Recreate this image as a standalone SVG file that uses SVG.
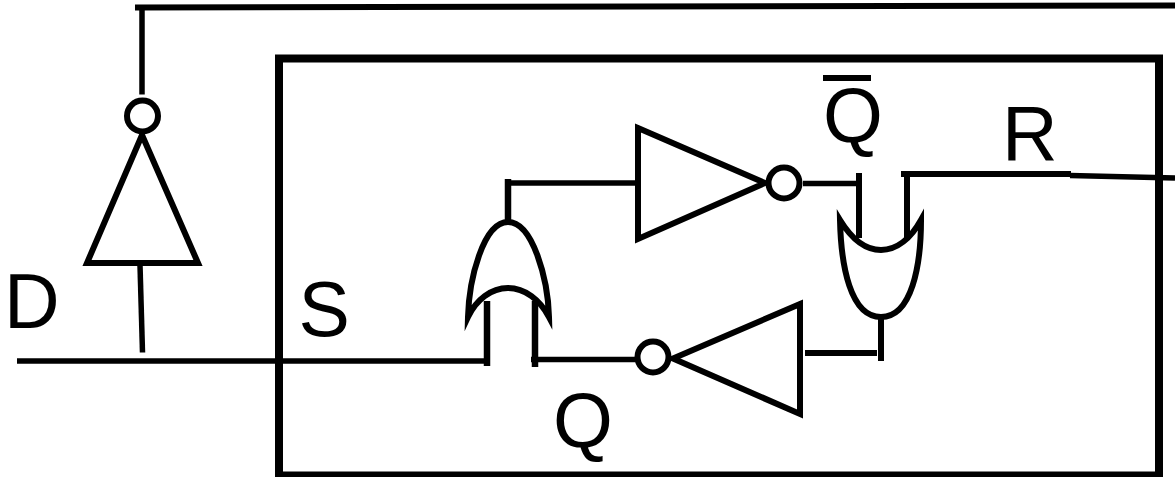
<svg xmlns="http://www.w3.org/2000/svg" width="1175" height="477" viewBox="0 0 1175 477">
<style>
.s{fill:none;stroke:#000;stroke-linecap:butt;stroke-linejoin:miter}
.g{fill:#fff;stroke:#000;stroke-width:6;stroke-miterlimit:10}
text{font-family:"Liberation Sans",Arial,sans-serif;font-size:77px;fill:#000}
</style>
<rect fill="#fff" width="1175" height="477"/>
<g id="frame"><rect class="s" x="279" y="58.500" width="880" height="417" stroke-width="8"/></g>
<g id="connectors">
<path class="s" stroke-width="6" d="M135 7.500L1175 5.500"/>
<path class="s" stroke-width="5.500" d="M142 8V94.500"/>
<path class="s" stroke-width="5.500" d="M140 265L142.500 352.500"/>
<path class="s" stroke-width="5.500" d="M17 361H487"/>
<path class="s" stroke-width="6.500" d="M487 301V366"/>
<path class="s" stroke-width="6.500" d="M535 301V367"/>
<path class="s" stroke-width="5.500" d="M531 359.500H638"/>
<path class="s" stroke-width="6.500" d="M508 179V222"/>
<path class="s" stroke-width="5.500" d="M508 183H637"/>
<path class="s" stroke-width="5.500" d="M803 183.500H858"/>
<path class="s" stroke-width="6" d="M859 173V238"/>
<path class="s" stroke-width="6" d="M907 174V238"/>
<path class="s" stroke-width="6" d="M901 174H1071"/>
<path class="s" stroke-width="5.500" d="M1070 175.500L1175 178"/>
<path class="s" stroke-width="6" d="M805 353H877"/>
<path class="s" stroke-width="6" d="M881 316V361"/>
<path class="s" stroke-width="6" d="M823 78H871"/>
</g>
<g id="inverter-d">
<path class="g" d="M142 135L198 263H87Z"/>
<circle class="g" cx="142.500" cy="116" r="15.500"/>
</g>
<g id="or-s">
<path class="g" d="M508 222C533 222 548 280 549 317C540 300 525 288 508 288C491 288 476 300 468 317C469 280 483 222 508 222Z"/>
</g>
<g id="inverter-top">
<path class="g" d="M638 128L765 183L638 239Z"/>
<circle class="g" cx="784" cy="183" r="15.500"/>
</g>
<g id="or-r">
<path class="g" d="M881 317C850 317 841 265 840 220C851 238 865 250 881 250C897 250 911 238 921 220C921 265 912 317 881 317Z"/>
</g>
<g id="inverter-bottom">
<path class="g" d="M800 304L673 358.500L800 414Z"/>
<circle class="g" cx="653" cy="357" r="15.500"/>
</g>
<g id="labels">
<text x="4" y="328">D</text>
<text x="298.500" y="336">S</text>
<text x="553" y="447">Q</text>
<text x="823" y="142">Q</text>
<text x="1002" y="160">R</text>
</g>
</svg>
